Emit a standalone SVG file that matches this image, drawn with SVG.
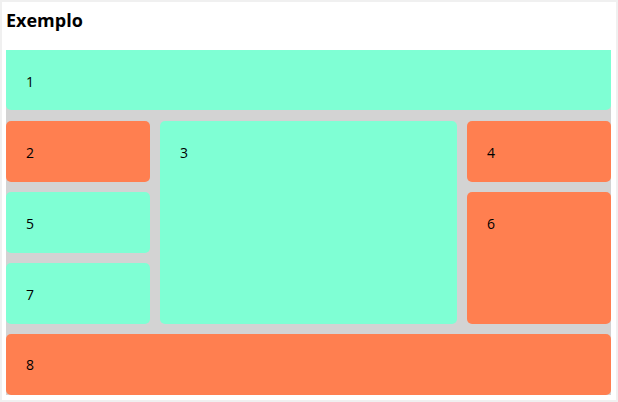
<svg xmlns="http://www.w3.org/2000/svg" width="618" height="402" viewBox="0 0 618 402">
<style>
.a{fill:#7fffd4}
.c{fill:#ff7f50}
.t{font-family:"Open Sans","Noto Sans","Liberation Sans",sans-serif;font-size:14px;fill:#000}
.h{font-family:"Open Sans","Noto Sans","Liberation Sans",sans-serif;font-size:18px;font-weight:bold;fill:#000}
</style>
<rect x="0" y="0" width="618" height="402" fill="#ffffff"/>
<rect x="0.5" y="0.5" width="617" height="401" fill="none" stroke="#f0f0f0" stroke-width="3"/>
<text class="h" x="6" y="27">Exemplo</text>
<rect x="6" y="50" width="605" height="345" fill="#d3d3d3"/>
<g id="n1"><path class="a" d="M6 50H611V105a5 5 0 0 1-5 5H11a5 5 0 0 1-5-5Z"/><text class="t" x="26" y="87">1</text></g>
<g id="n2"><rect class="c" x="6" y="121" width="144" height="61" rx="5"/><text class="t" x="26" y="158">2</text></g>
<g id="n3"><rect class="a" x="160" y="121" width="297" height="203" rx="5"/><text class="t" x="180" y="158">3</text></g>
<g id="n4"><rect class="c" x="467" y="121" width="144" height="61" rx="5"/><text class="t" x="487" y="158">4</text></g>
<g id="n5"><rect class="a" x="6" y="192" width="144" height="61" rx="5"/><text class="t" x="26" y="229">5</text></g>
<g id="n6"><rect class="c" x="467" y="192" width="144" height="132" rx="5"/><text class="t" x="487" y="229">6</text></g>
<g id="n7"><rect class="a" x="6" y="263" width="144" height="61" rx="5"/><text class="t" x="26" y="300">7</text></g>
<g id="n8"><rect class="c" x="6" y="334" width="605" height="61" rx="5"/><text class="t" x="26" y="370">8</text></g>
<g id="connectors"></g>
</svg>
